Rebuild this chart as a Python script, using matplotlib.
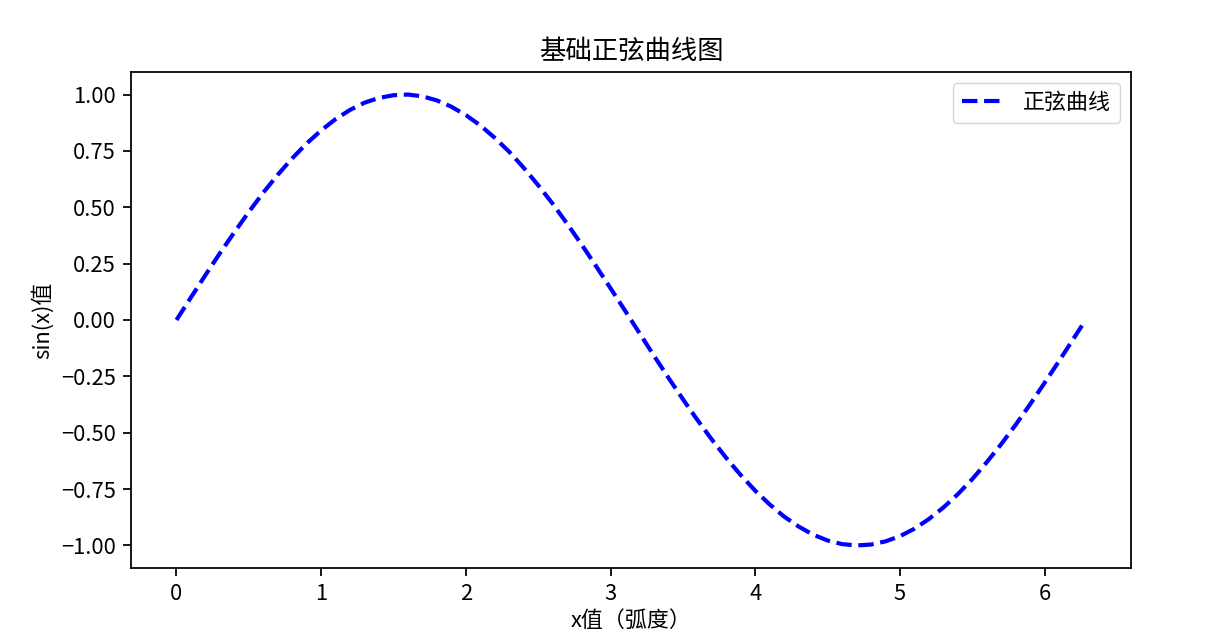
import matplotlib
matplotlib.use("Agg")
import matplotlib.pyplot as plt

plt.rcParams['font.family'] = ['Noto Sans CJK SC', 'DejaVu Sans']
plt.rcParams['axes.unicode_minus'] = True

x_vals = [0.0, 0.1, 0.2, 0.3, 0.4, 0.5, 0.6, 0.7, 0.8, 0.9, 1.0, 1.1, 1.2, 1.3, 1.4,
          1.5, 1.6, 1.7, 1.8, 1.9, 2.0, 2.1, 2.2, 2.3, 2.4, 2.5, 2.6, 2.7, 2.8, 2.9,
          3.0, 3.1, 3.2, 3.3, 3.4, 3.5, 3.6, 3.7, 3.8, 3.9, 4.0, 4.1, 4.2, 4.3, 4.4,
          4.5, 4.6, 4.7, 4.8, 4.9, 5.0, 5.1, 5.2, 5.3, 5.4, 5.5, 5.6, 5.7, 5.8, 5.9,
          6.0, 6.1, 6.2, 6.2832]
y_vals = [0.000, 0.100, 0.199, 0.296, 0.389, 0.479, 0.565, 0.644, 0.717, 0.783,
          0.841, 0.891, 0.932, 0.964, 0.985, 0.997, 1.000, 0.992, 0.974, 0.946,
          0.909, 0.863, 0.808, 0.746, 0.675, 0.598, 0.516, 0.427, 0.335, 0.239,
          0.141, 0.042, -0.058, -0.158, -0.256, -0.351, -0.443, -0.530, -0.612, -0.688,
          -0.757, -0.818, -0.872, -0.916, -0.952, -0.978, -0.994, -1.000, -0.996, -0.982,
          -0.959, -0.926, -0.883, -0.832, -0.773, -0.706, -0.631, -0.551, -0.465, -0.374,
          -0.279, -0.182, -0.083, 0.000]

title = "基础正弦曲线图"
xlabel = "x值（弧度）"
ylabel = "sin(x)值"
legend_label = "正弦曲线"

s = 1.58
fig = plt.figure(figsize=(12.22, 6.34), dpi=100)
ax = fig.add_axes([131/1222, 1 - 568/634, 1000/1222, 496/634])
ax.plot(x_vals, y_vals, linestyle='--', color='blue', linewidth=3.0, label=legend_label)
ax.set_title(title, fontsize=12 * s, pad=6 * s)
ax.set_xlabel(xlabel, fontsize=10 * s, labelpad=2 * s)
ax.set_ylabel(ylabel, fontsize=10 * s, labelpad=3 * s)
ax.tick_params(labelsize=10 * s, length=3.5 * s, width=0.8 * s, pad=3.5 * s)
for sp in ax.spines.values():
    sp.set_linewidth(0.8 * s)
ax.legend(loc='upper right', fontsize=10 * s)
fig.savefig("out.png", dpi=100)
